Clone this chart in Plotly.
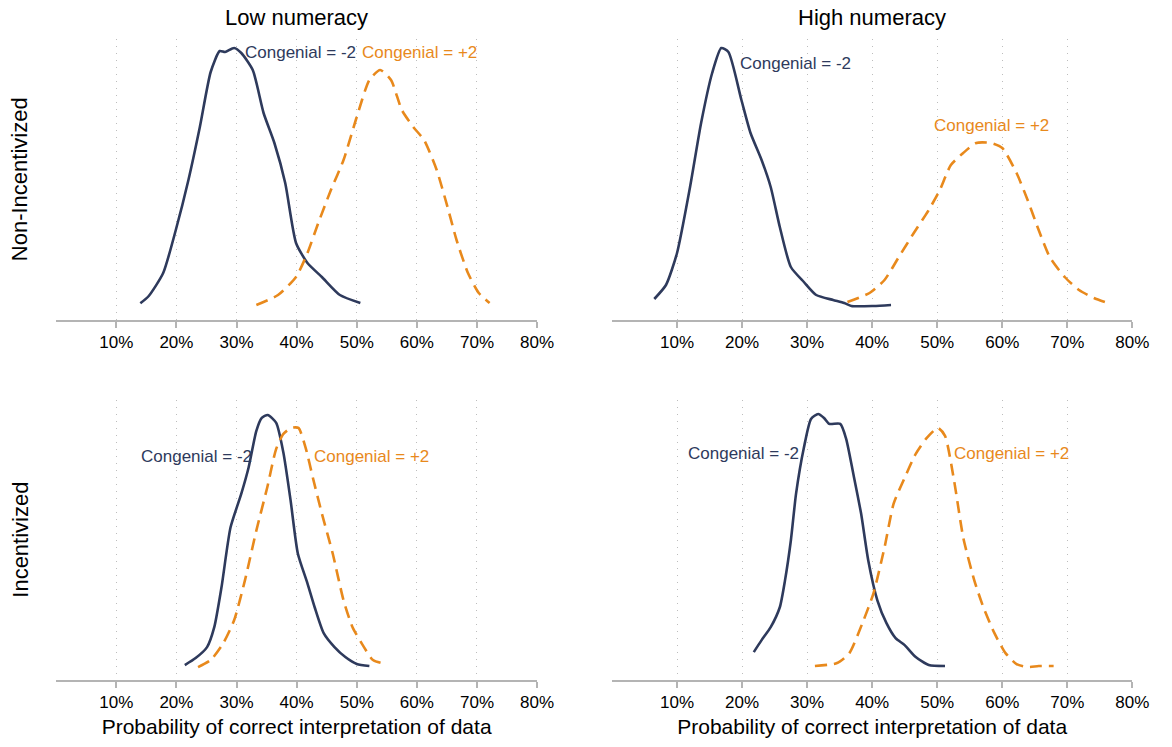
import plotly.graph_objects as go

# ---- data (x in %, y = density in arbitrary units) ----
tl_neg_x = [14.0, 15.4, 17.8, 19.9, 22.0, 23.9, 25.7, 27.2, 28.1, 29.6, 30.8, 32.7, 34.5, 36.3, 38.1, 39.9, 41.8, 44.2, 47.2, 50.6]
tl_neg_y = [16.7, 24, 47, 90, 140, 193, 248, 269, 268, 272, 267, 250, 207, 177, 137, 77, 57, 43, 25, 17]
tl_pos_x = [33.3, 36.9, 39.9, 41.8, 43.6, 45.7, 47.8, 50.0, 52.1, 53.9, 55.7, 57.5, 59.4, 61.2, 63.3, 65.1, 66.6, 68.5, 70.3, 72.1]
tl_pos_y = [15, 25, 43, 67, 97, 130, 160, 203, 240, 250, 240, 210, 193, 180, 150, 113, 80, 47, 27, 17]

tr_neg_x = [6.5, 8.3, 10.0, 12.0, 13.7, 15.4, 16.8, 17.9, 19.9, 21.3, 23.0, 24.4, 25.8, 27.5, 29.5, 31.4, 34.0, 35.7, 36.8, 40.2, 42.9]
tr_neg_y = [21, 35, 67, 133, 197, 247, 272, 268, 220, 187, 160, 133, 93, 53, 38, 25, 20, 17, 14, 14, 15]
tr_pos_x = [36.2, 39.6, 41.9, 44.1, 46.4, 48.7, 50.4, 52.1, 54.0, 56.0, 58.3, 60.0, 62.2, 63.9, 65.6, 67.3, 69.6, 71.8, 74.1, 76.2]
tr_pos_y = [18, 27, 40, 63, 87, 110, 130, 155, 167, 177, 177, 172, 147, 120, 90, 63, 43, 30, 22, 17]

bl_neg_x = [21.4, 23.2, 25.1, 26.3, 27.5, 29.0, 30.8, 32.0, 33.3, 34.2, 35.2, 36.6, 37.8, 39.0, 40.2, 41.8, 43.0, 44.5, 46.3, 48.1, 50.0, 52.1]
bl_neg_y = [15, 22, 33, 53, 93, 153, 187, 213, 250, 263, 266, 258, 228, 180, 127, 97, 73, 47, 33, 23, 16, 14]
bl_pos_x = [23.6, 25.7, 27.8, 29.6, 31.4, 33.3, 35.1, 36.6, 37.8, 39.1, 40.3, 41.5, 42.7, 44.2, 46.0, 47.8, 49.3, 51.2, 52.7, 54.8]
bl_pos_y = [13, 20, 37, 60, 100, 150, 193, 232, 247, 253, 253, 233, 203, 167, 127, 80, 53, 33, 20, 16]

br_neg_x = [21.8, 23.0, 24.4, 25.8, 26.6, 27.5, 28.3, 29.5, 30.6, 31.7, 32.6, 33.4, 35.1, 36.0, 37.1, 38.3, 39.4, 40.8, 42.2, 43.6, 45.0, 46.7, 48.7, 51.2]
br_neg_y = [28, 40, 53, 73, 100, 140, 187, 233, 262, 267, 263, 257, 257, 242, 207, 167, 120, 80, 57, 42, 35, 23, 15, 14]
br_pos_x = [31.2, 34.6, 36.5, 38.5, 40.2, 41.9, 43.3, 45.0, 46.7, 48.4, 50.1, 51.2, 52.6, 54.0, 55.7, 57.1, 58.8, 60.5, 62.2, 63.9, 65.6, 67.9]
br_pos_y = [14, 17, 27, 57, 87, 133, 177, 203, 227, 243, 253, 245, 200, 143, 100, 73, 47, 27, 16, 13, 14, 14]

tick_vals = [10, 20, 30, 40, 50, 60, 70, 80]
tick_text = ["10%", "20%", "30%", "40%", "50%", "60%", "70%", "80%"]
col_titles = ["Low numeracy", "High numeracy"]
row_titles = ["Non-Incentivized", "Incentivized"]
x_title = "Probability of correct interpretation of data"
label_neg = "Congenial = -2"
label_pos = "Congenial = +2"

# label anchor positions (x left edge in %, y in density units)
lab_neg = [(31.0, 267), (19.4, 256), (13.8, 224), (11.4, 227)]
lab_pos = [(50.6, 267), (49.2, 194), (42.5, 224), (52.3, 227)]

NAVY = "#2e3a5c"
ORANGE = "#e8891c"
FONT = "Liberation Sans, Arial, Helvetica, sans-serif"

W, H = 1172, 747
xdom = [[57 / W, 545 / W], [621 / W, 1149 / W]]
ydom = [[1 - 320 / H, 1 - 39 / H], [1 - 680 / H, 1 - 400 / H]]

panels = [
    (tl_neg_x, tl_neg_y, tl_pos_x, tl_pos_y),
    (tr_neg_x, tr_neg_y, tr_pos_x, tr_pos_y),
    (bl_neg_x, bl_neg_y, bl_pos_x, bl_pos_y),
    (br_neg_x, br_neg_y, br_pos_x, br_pos_y),
]

fig = go.Figure()
layout = dict(
    width=W, height=H, margin=dict(l=0, r=0, t=0, b=0),
    paper_bgcolor="white", plot_bgcolor="white", showlegend=False,
    font=dict(family=FONT, color="black"),
)
annotations = []

for i, (nx, ny, px, py) in enumerate(panels):
    r, c = divmod(i, 2)
    k = "" if i == 0 else str(i + 1)
    xa, ya = "x" + k, "y" + k
    fig.add_trace(go.Scatter(x=nx, y=ny, mode="lines", xaxis=xa, yaxis=ya,
                             line=dict(color=NAVY, width=2.6, shape="spline", smoothing=0.6)))
    fig.add_trace(go.Scatter(x=px, y=py, mode="lines", xaxis=xa, yaxis=ya,
                             line=dict(color=ORANGE, width=2.6, dash="12px,7px", shape="spline", smoothing=0.6)))
    layout["xaxis" + k] = dict(
        domain=xdom[c], anchor=ya, range=[0, 80], tickvals=tick_vals, ticktext=tick_text,
        showgrid=True, gridcolor="#bdbdbd", griddash="1px,6px", gridwidth=1,
        showline=True, linecolor="#b4b4b4", linewidth=2,
        ticks="outside", ticklen=6, tickcolor="#b4b4b4", tickwidth=1.5,
        tickfont=dict(size=17, family=FONT, color="black"), zeroline=False,
        title=dict(text=x_title if r == 1 else "", font=dict(size=21, family=FONT), standoff=8),
    )
    layout["yaxis" + k] = dict(domain=ydom[r], anchor=xa, range=[0, 281], visible=False)
    annotations.append(dict(x=lab_neg[i][0], y=lab_neg[i][1], xref=xa, yref=ya, text=label_neg,
                            showarrow=False, xanchor="left", yanchor="middle",
                            font=dict(size=17, color=NAVY, family=FONT)))
    annotations.append(dict(x=lab_pos[i][0], y=lab_pos[i][1], xref=xa, yref=ya, text=label_pos,
                            showarrow=False, xanchor="left", yanchor="middle",
                            font=dict(size=17, color=ORANGE, family=FONT)))

for c in range(2):
    annotations.append(dict(x=sum(xdom[c]) / 2, y=1 - 18 / H, xref="paper", yref="paper",
                            text=col_titles[c], showarrow=False, xanchor="center", yanchor="middle",
                            font=dict(size=22, family=FONT, color="black")))
for r in range(2):
    annotations.append(dict(x=20 / W, y=sum(ydom[r]) / 2, xref="paper", yref="paper",
                            text=row_titles[r], showarrow=False, textangle=-90,
                            xanchor="center", yanchor="middle",
                            font=dict(size=22, family=FONT, color="black")))

layout["annotations"] = annotations
fig.update_layout(**layout)
fig.write_html("out.html")
